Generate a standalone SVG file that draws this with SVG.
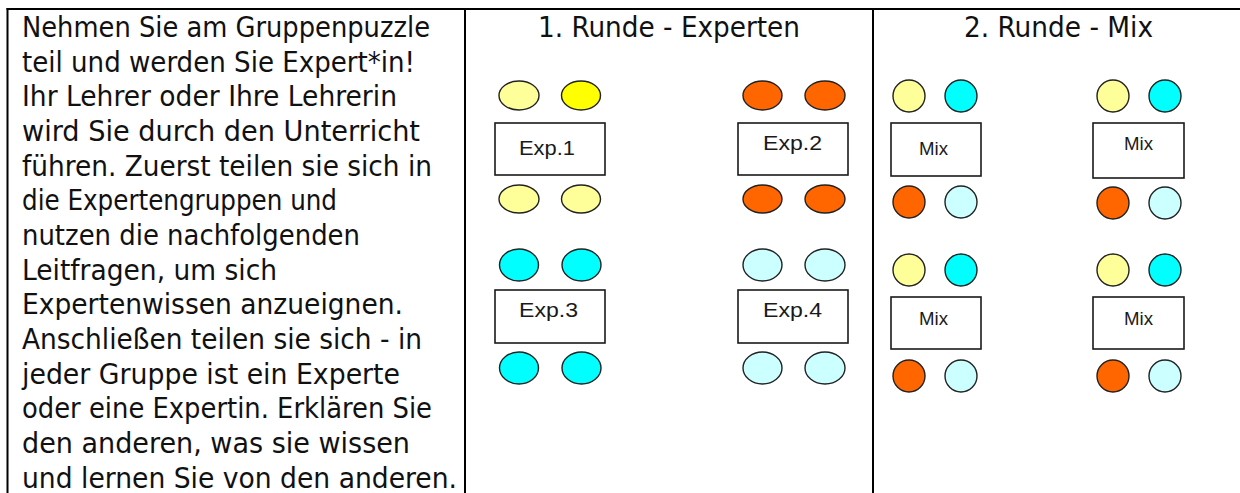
<svg xmlns="http://www.w3.org/2000/svg" width="1240" height="493" viewBox="0 0 1240 493">
  <style>
    .body { font-family: "DejaVu Sans Condensed", "DejaVu Sans", sans-serif; font-size: 28px; fill: #111; }
    .head { font-family: "DejaVu Sans Condensed", "DejaVu Sans", sans-serif; font-size: 28px; fill: #111; text-anchor: middle; }
    .grid { stroke: #000; stroke-width: 2; fill: none; }
    .table-box { fill: #fff; stroke: #1a1a1a; stroke-width: 1.6; }
    .lbl-exp { font-family: "Liberation Sans", Arial, sans-serif; font-size: 20px; fill: #1a1a1a; }
    .lbl-mix { font-family: "Liberation Sans", Arial, sans-serif; font-size: 18.5px; fill: #1a1a1a; }
    .seat { stroke: #222; stroke-width: 1.4; }
    .ly { fill: #FFFF99; }
    .yy { fill: #FFFF00; }
    .or { fill: #FF6600; }
    .cy { fill: #00FFFF; }
    .lc { fill: #CCFFFF; }
  </style>

  <rect x="0" y="0" width="1240" height="493" fill="#fff"/>

  <!-- table rules -->
  <g id="table">
    <line class="grid" x1="6.5" y1="9" x2="1240" y2="9"/>
    <line class="grid" x1="7.5" y1="8" x2="7.5" y2="493"/>
    <line class="grid" x1="465" y1="8" x2="465" y2="493"/>
    <line class="grid" x1="873" y1="8" x2="873" y2="493"/>
  </g>

  <!-- instructions column -->
  <g id="instructions" class="body">
    <text x="22" y="37" textLength="408" lengthAdjust="spacingAndGlyphs">Nehmen Sie am Gruppenpuzzle</text>
    <text x="22" y="71.7" textLength="393" lengthAdjust="spacingAndGlyphs">teil und werden Sie Expert*in!</text>
    <text x="22" y="106.3" textLength="375" lengthAdjust="spacingAndGlyphs">Ihr Lehrer oder Ihre Lehrerin</text>
    <text x="22" y="141" textLength="398" lengthAdjust="spacingAndGlyphs">wird Sie durch den Unterricht</text>
    <text x="22" y="175.6" textLength="410" lengthAdjust="spacingAndGlyphs">führen. Zuerst teilen sie sich in</text>
    <text x="22" y="210.3" textLength="315" lengthAdjust="spacingAndGlyphs">die Expertengruppen und</text>
    <text x="22" y="244.9" textLength="338" lengthAdjust="spacingAndGlyphs">nutzen die nachfolgenden</text>
    <text x="22" y="279.6" textLength="255" lengthAdjust="spacingAndGlyphs">Leitfragen, um sich</text>
    <text x="22" y="314.2" textLength="381" lengthAdjust="spacingAndGlyphs">Expertenwissen anzueignen.</text>
    <text x="22" y="348.9" textLength="400" lengthAdjust="spacingAndGlyphs">Anschließen teilen sie sich - in</text>
    <text x="22" y="383.5" textLength="378" lengthAdjust="spacingAndGlyphs">jeder Gruppe ist ein Experte</text>
    <text x="22" y="418.2" textLength="410" lengthAdjust="spacingAndGlyphs">oder eine Expertin. Erklären Sie</text>
    <text x="22" y="452.8" textLength="388" lengthAdjust="spacingAndGlyphs">den anderen, was sie wissen</text>
    <text x="22" y="487.5" textLength="435" lengthAdjust="spacingAndGlyphs">und lernen Sie von den anderen.</text>
  </g>

  <!-- column headings -->
  <g id="headings" class="head">
    <text x="669" y="37" textLength="262" lengthAdjust="spacingAndGlyphs">1. Runde - Experten</text>
    <text x="1058.5" y="37" textLength="189" lengthAdjust="spacingAndGlyphs">2. Runde - Mix</text>
  </g>

  <!-- round 1: expert tables -->
  <g id="exp1">
    <ellipse class="seat ly" cx="519" cy="95.5" rx="20" ry="14.5"/>
    <ellipse class="seat yy" cx="581" cy="95.5" rx="19.5" ry="14.5"/>
    <rect class="table-box" x="495" y="123" width="110" height="52"/>
    <text class="lbl-exp" x="519" y="155" textLength="56" lengthAdjust="spacingAndGlyphs">Exp.1</text>
    <ellipse class="seat ly" cx="519" cy="199" rx="20" ry="14"/>
    <ellipse class="seat ly" cx="581" cy="199" rx="19.5" ry="14"/>
  </g>
  <g id="exp2">
    <ellipse class="seat or" cx="762.5" cy="95.5" rx="19.5" ry="14.5"/>
    <ellipse class="seat or" cx="825" cy="95.5" rx="20" ry="14.5"/>
    <rect class="table-box" x="738" y="123" width="110" height="52"/>
    <text class="lbl-exp" x="763" y="150" textLength="59" lengthAdjust="spacingAndGlyphs">Exp.2</text>
    <ellipse class="seat or" cx="762.5" cy="199" rx="19.5" ry="14"/>
    <ellipse class="seat or" cx="825" cy="199" rx="20" ry="14"/>
  </g>
  <g id="exp3">
    <ellipse class="seat cy" cx="519" cy="265" rx="19.5" ry="16"/>
    <ellipse class="seat cy" cx="581.5" cy="265" rx="19.5" ry="16"/>
    <rect class="table-box" x="495" y="290" width="110" height="53"/>
    <text class="lbl-exp" x="519" y="317" textLength="59" lengthAdjust="spacingAndGlyphs">Exp.3</text>
    <ellipse class="seat cy" cx="519" cy="368" rx="19.5" ry="16"/>
    <ellipse class="seat cy" cx="581.5" cy="368" rx="19.5" ry="16"/>
  </g>
  <g id="exp4">
    <ellipse class="seat lc" cx="762.5" cy="265" rx="19.5" ry="16"/>
    <ellipse class="seat lc" cx="825" cy="265" rx="20" ry="16"/>
    <rect class="table-box" x="738" y="290" width="110" height="53"/>
    <text class="lbl-exp" x="763" y="317" textLength="59" lengthAdjust="spacingAndGlyphs">Exp.4</text>
    <ellipse class="seat lc" cx="762.5" cy="368" rx="19.5" ry="16"/>
    <ellipse class="seat lc" cx="825" cy="368" rx="20" ry="16"/>
  </g>

  <!-- round 2: mixed tables -->
  <g id="mix1">
    <ellipse class="seat ly" cx="909" cy="96" rx="16" ry="16"/>
    <ellipse class="seat cy" cx="961" cy="96" rx="16" ry="16"/>
    <rect class="table-box" x="891" y="123" width="90" height="53"/>
    <text class="lbl-mix" x="919" y="155" textLength="29" lengthAdjust="spacingAndGlyphs">Mix</text>
    <ellipse class="seat or" cx="909" cy="202" rx="16" ry="16"/>
    <ellipse class="seat lc" cx="961" cy="202" rx="16" ry="16"/>
  </g>
  <g id="mix2">
    <ellipse class="seat ly" cx="1113" cy="96" rx="16" ry="16"/>
    <ellipse class="seat cy" cx="1165" cy="96" rx="16" ry="16"/>
    <rect class="table-box" x="1093" y="123" width="91" height="55"/>
    <text class="lbl-mix" x="1124" y="150" textLength="29" lengthAdjust="spacingAndGlyphs">Mix</text>
    <ellipse class="seat or" cx="1113" cy="203" rx="16" ry="16"/>
    <ellipse class="seat lc" cx="1165" cy="203" rx="16" ry="16"/>
  </g>
  <g id="mix3">
    <ellipse class="seat ly" cx="909" cy="270" rx="16" ry="16"/>
    <ellipse class="seat cy" cx="961" cy="270" rx="16" ry="16"/>
    <rect class="table-box" x="891" y="297" width="90" height="52"/>
    <text class="lbl-mix" x="919" y="325" textLength="29" lengthAdjust="spacingAndGlyphs">Mix</text>
    <ellipse class="seat or" cx="909" cy="376" rx="16" ry="16"/>
    <ellipse class="seat lc" cx="961" cy="376" rx="16" ry="16"/>
  </g>
  <g id="mix4">
    <ellipse class="seat ly" cx="1113" cy="270" rx="16" ry="16"/>
    <ellipse class="seat cy" cx="1165" cy="270" rx="16" ry="16"/>
    <rect class="table-box" x="1093" y="297" width="91" height="52"/>
    <text class="lbl-mix" x="1124" y="325" textLength="29" lengthAdjust="spacingAndGlyphs">Mix</text>
    <ellipse class="seat or" cx="1113" cy="376" rx="16" ry="16"/>
    <ellipse class="seat lc" cx="1165" cy="376" rx="16" ry="16"/>
  </g>
</svg>
